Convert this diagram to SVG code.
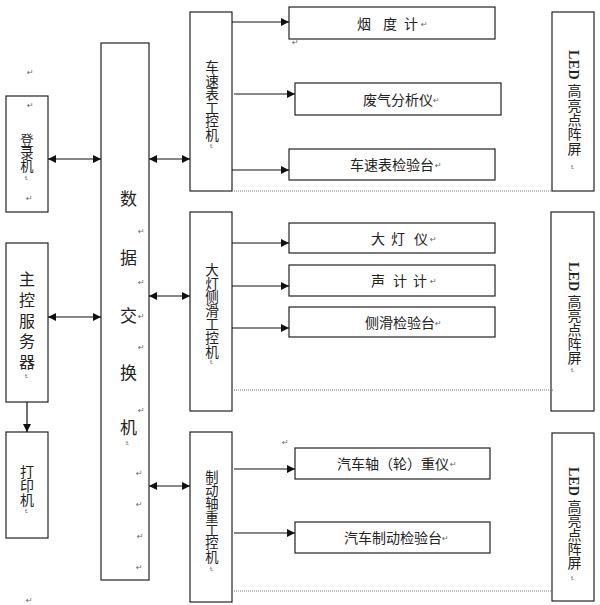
<svg xmlns="http://www.w3.org/2000/svg" width="600" height="605" viewBox="0 0 600 605">
<style>
.box{fill:#fff;stroke:#222;stroke-width:1.2}
.t{font-family:"Noto Sans CJK SC","Noto Sans",sans-serif;fill:#222;font-size:14px}
.vt{font-family:"Noto Sans CJK SC","Noto Sans",sans-serif;fill:#222;writing-mode:vertical-rl}
.v{text-anchor:middle}
.m{font-family:"DejaVu Sans",sans-serif;fill:#666;font-size:8px}
.c{stroke:#111;stroke-width:1.2;fill:none}
.d{stroke:#777;stroke-width:1.2;stroke-dasharray:1 1;fill:none}
.led{font-family:"Liberation Serif","Noto Sans CJK SC",serif;fill:#222;font-size:14px;writing-mode:vertical-rl}
.b{font-weight:bold}
</style>
<defs>
<marker id="ah" viewBox="0 0 10 10" refX="10" refY="5" markerWidth="9" markerHeight="8" orient="auto-start-reverse" markerUnits="userSpaceOnUse"><path d="M0,0 L10,5 L0,10 z" fill="#111"/></marker>
</defs>

<g id="login">
<rect class="box" x="6" y="96" width="42" height="116"/>
<text class="vt" x="27" y="133" font-size="13.3">登录机</text>
</g>
<g id="server">
<rect class="box" x="6" y="243" width="42" height="159"/>
<text class="vt" x="27" y="271" font-size="16" letter-spacing="4.75">主控服务器</text>
</g>
<g id="printer">
<rect class="box" x="6" y="432" width="42" height="106"/>
<text class="vt" x="27" y="465" font-size="14">打印机</text>
</g>
<g id="switch">
<rect class="box" x="101" y="43" width="48" height="537"/>
<text class="t v" style="font-size:17px"><tspan x="128.5" y="204.5">数</tspan><tspan x="128.5" y="263.5">据</tspan><tspan x="128.5" y="321.5">交</tspan><tspan x="128.5" y="378.5">换</tspan><tspan x="128.5" y="433.5">机</tspan></text>
</g>
<g id="ipc1">
<rect class="box" x="190" y="12" width="42" height="179"/>
<text class="vt" x="212" y="60" font-size="13.6">车速表工控机</text>
</g>
<g id="ipc2">
<rect class="box" x="190" y="212" width="42" height="199"/>
<text class="vt" x="212" y="263" font-size="13.6">大灯侧滑工控机</text>
</g>
<g id="ipc3">
<rect class="box" x="190" y="432" width="42" height="170"/>
<text class="vt" x="212" y="470" font-size="13.3">制动轴重工控机</text>
</g>

<g id="smoke"><rect class="box" x="289" y="7" width="206" height="32"/><text class="t" y="29"><tspan x="357">烟</tspan><tspan x="383">度</tspan><tspan x="404">计</tspan></text></g>
<g id="exhaust"><rect class="box" x="295" y="83" width="206" height="32"/><text class="t" x="363" y="105">废气分析仪</text></g>
<g id="speedo"><rect class="box" x="289" y="149" width="206" height="31"/><text class="t" x="350" y="170">车速表检验台</text></g>
<g id="headlamp"><rect class="box" x="289" y="223" width="206" height="30"/><text class="t" y="244"><tspan x="371">大</tspan><tspan x="391">灯</tspan><tspan x="414">仪</tspan></text></g>
<g id="sound"><rect class="box" x="289" y="265" width="206" height="31"/><text class="t" y="286"><tspan x="371">声</tspan><tspan x="393">计</tspan><tspan x="413">计</tspan></text></g>
<g id="sideslip"><rect class="box" x="289" y="307" width="206" height="30"/><text class="t" x="365" y="328">侧滑检验台</text></g>
<g id="axle"><rect class="box" x="295" y="448" width="195" height="31"/><text class="t" x="337" y="469">汽车轴（轮）重仪</text></g>
<g id="brake"><rect class="box" x="295" y="522" width="195" height="31"/><text class="t" x="344" y="543">汽车制动检验台</text></g>

<g id="led1"><rect class="box" x="552" y="12" width="42" height="179"/>
<text class="led" x="573" y="50" letter-spacing="0.4"><tspan class="b">LED</tspan> 高亮点阵屏</text></g>
<g id="led2"><rect class="box" x="551" y="212" width="43" height="199"/>
<text class="led" x="573" y="262" letter-spacing="0.1"><tspan class="b">LED</tspan> 高亮点阵屏</text></g>
<g id="led3"><rect class="box" x="552" y="433" width="42" height="168"/>
<text class="led" x="573" y="467" letter-spacing="0"><tspan class="b">LED</tspan> 高亮点阵屏</text></g>

<g id="connectors">
<line class="c" x1="48" y1="159" x2="101" y2="159" marker-start="url(#ah)" marker-end="url(#ah)"/>
<line class="c" x1="48" y1="317" x2="101" y2="317" marker-start="url(#ah)" marker-end="url(#ah)"/>
<line class="c" x1="27" y1="402" x2="27" y2="432" marker-end="url(#ah)"/>
<line class="c" x1="149" y1="159" x2="190" y2="159" marker-start="url(#ah)" marker-end="url(#ah)"/>
<line class="c" x1="149" y1="296" x2="190" y2="296" marker-start="url(#ah)" marker-end="url(#ah)"/>
<line class="c" x1="149" y1="486" x2="190" y2="486" marker-start="url(#ah)" marker-end="url(#ah)"/>
<line class="c" x1="232" y1="22" x2="289" y2="22" marker-end="url(#ah)"/>
<line class="c" x1="234" y1="94" x2="295" y2="94" marker-end="url(#ah)"/>
<line class="c" x1="232" y1="170" x2="289" y2="170" marker-end="url(#ah)"/>
<line class="c" x1="232" y1="243" x2="289" y2="243" marker-end="url(#ah)"/>
<line class="c" x1="232" y1="286" x2="289" y2="286" marker-end="url(#ah)"/>
<line class="c" x1="232" y1="328" x2="289" y2="328" marker-end="url(#ah)"/>
<line class="c" x1="234" y1="469" x2="295" y2="469" marker-end="url(#ah)"/>
<line class="c" x1="234" y1="533" x2="295" y2="533" marker-end="url(#ah)"/>
<line class="d" x1="234" y1="191" x2="552" y2="191"/>
<line class="d" x1="234" y1="390" x2="553" y2="390"/>
<line class="d" x1="234" y1="591" x2="553" y2="591"/>
</g>

<g id="marks" class="m">
<text x="27" y="75">↵</text><text x="27" y="108">↵</text><text x="26" y="201">↵</text><text x="26" y="603">↵</text>
<text x="138" y="234">↵</text><text x="138" y="285">↵</text><text x="138" y="319">↵</text><text x="138" y="350">↵</text><text x="138" y="413">↵</text>
<text x="136" y="476">↵</text><text x="136" y="507">↵</text><text x="137" y="539">↵</text><text x="136" y="570">↵</text>
<text x="421" y="27">↵</text><text x="292" y="45">↵</text><text x="433" y="103">↵</text><text x="435" y="168">↵</text>
<text x="430" y="242">↵</text><text x="430" y="284">↵</text><text x="435" y="326">↵</text><text x="450" y="467">↵</text><text x="442" y="541">↵</text><text x="282" y="445">↵</text>
<g font-size="6">
<text transform="translate(24,176) rotate(90)">↵</text>
<text transform="translate(24,374) rotate(90)">↵</text>
<text transform="translate(24,509) rotate(90)">↵</text>
<text transform="translate(125,441) rotate(90)">↵</text>
<text transform="translate(209,144) rotate(90)">↵</text>
<text transform="translate(209,360) rotate(90)">↵</text>
<text transform="translate(209,567) rotate(90)">↵</text>
<text transform="translate(570,165) rotate(90)">↵</text>
<text transform="translate(570,368) rotate(90)">↵</text>
<text transform="translate(570,576) rotate(90)">↵</text>
</g>
</g>
</svg>
